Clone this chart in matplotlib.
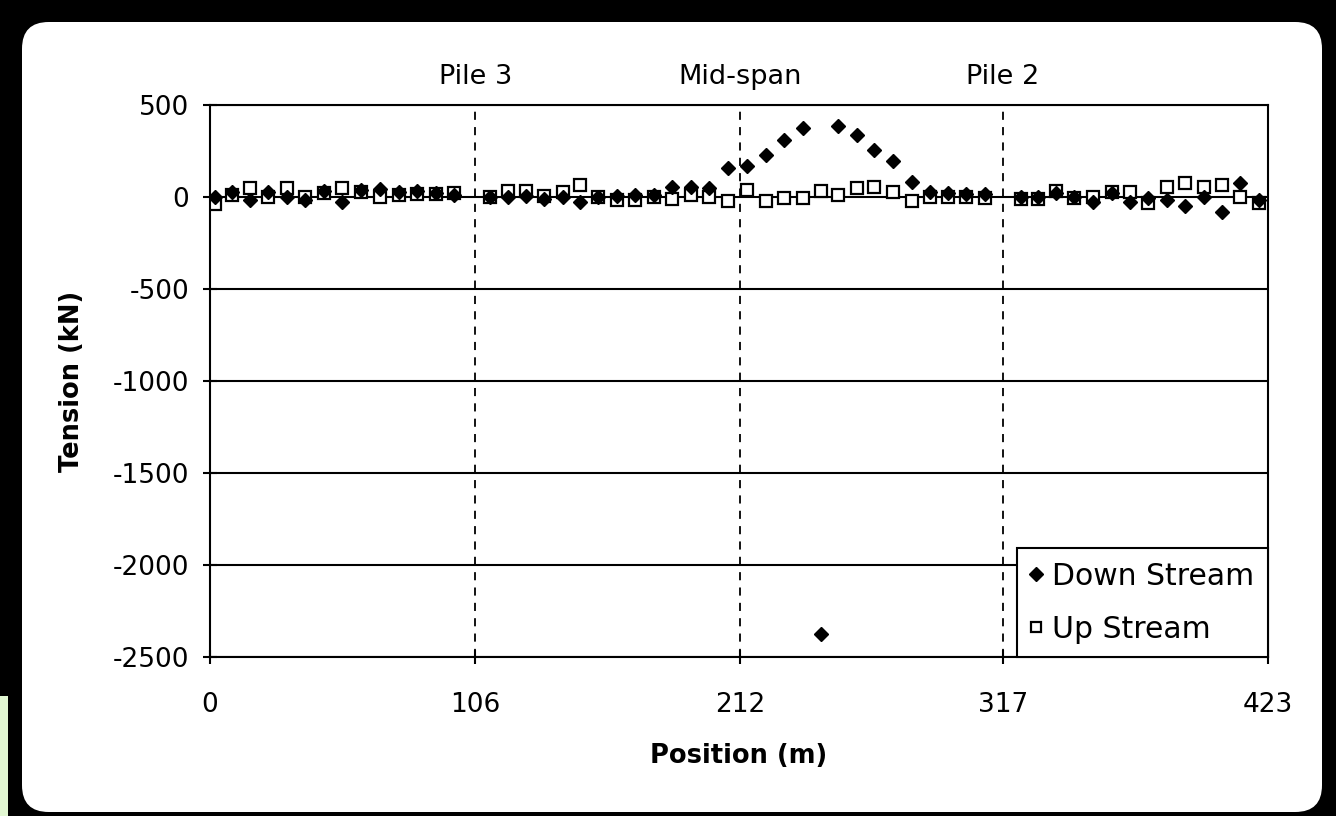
import matplotlib
matplotlib.use("Agg")
import matplotlib.pyplot as plt
from matplotlib.patches import FancyBboxPatch, Rectangle
import matplotlib.transforms as mtransforms

plt.rcParams["font.family"] = ["DejaVu Sans"]
plt.rcParams["axes.unicode_minus"] = False

# ---------------- data ----------------
down_x = [2.0, 8.8, 16.0, 23.2, 30.8, 38.0, 45.6, 52.8, 60.4, 68.0, 75.6, 82.8, 90.4, 97.6,
          112.0, 119.1, 126.3, 133.5, 141.1, 147.9, 155.1, 162.7, 169.9, 177.5, 184.7, 192.3,
          199.5, 207.1, 214.7, 222.3, 229.5, 237.1, 244.3, 251.1, 258.7, 265.5, 273.1, 280.7,
          287.9, 295.1, 302.2, 309.8,
          324.2, 331.0, 338.2, 345.4, 353.0, 360.6, 367.8, 375.0, 382.6, 389.8, 397.4, 404.6,
          411.8, 419.4]
down_y = [0, 25, -15, 25, 0, -15, 35, -25, 40, 45, 25, 35, 20, 10,
          0, 0, 5, -10, 0, -25, 0, 5, 10, 10, 55, 55,
          50, 160, 170, 230, 310, 375, -2375, 385, 335, 255, 195, 80,
          25, 20, 15, 15,
          0, 0, 20, 0, -25, 20, -25, -5, -15, -50, 0, -80,
          75, -15]

up_x = down_x
up_y = [-40, 10, 50, 0, 50, 0, 20, 50, 25, 0, 10, 15, 15, 20,
        0, 35, 35, 5, 25, 65, 0, -15, -15, 0, -10, 10,
        0, -20, 40, -20, -5, -5, 30, 10, 50, 55, 25, -20,
        0, 0, 0, -5,
        -10, -10, 35, -5, 0, 25, 25, -30, 55, 75, 55, 65,
        0, -30]

x_ticks = [0, 106, 212, 317, 423]
y_ticks = [500, 0, -500, -1000, -1500, -2000, -2500]
markers_at = [106, 212, 317]
marker_names = ["Pile 3", "Mid-span", "Pile 2"]

# ---------------- figure ----------------
W, H = 1336, 816
fig = plt.figure(figsize=(W / 100, H / 100), dpi=100, facecolor="black")

panel = FancyBboxPatch((22 / W, 4 / H), 1300 / W, 790 / H,
                       boxstyle="round,pad=0,rounding_size=0.02",
                       transform=fig.transFigure, facecolor="white",
                       edgecolor="none", mutation_aspect=W / H, zorder=-5)
fig.patches.append(panel)
# faint green strip at the far left bottom edge of the screenshot
fig.patches.append(Rectangle((0, 0), 8 / W, 120 / H, transform=fig.transFigure,
                             facecolor="#e2f7d2", edgecolor="none", zorder=-4))

ax = fig.add_axes([210 / W, 1 - 657 / H, 1058 / W, 552 / H])
ax.set_facecolor("white")

for yv in y_ticks:
    ax.axhline(yv, color="black", lw=1.5, zorder=1)
for xv in markers_at:
    ax.axvline(xv, color="black", lw=1.3, ls=(0, (4.5, 4)), zorder=1)

ax.plot(down_x, down_y, ls="none", marker="D", ms=7.5, color="black",
        label="Down Stream", zorder=3)
ax.plot(up_x, up_y, ls="none", marker="s", ms=8.5, mfc="white", mec="black",
        mew=1.6, label="Up Stream", zorder=2)

ax.set_xlim(0, 423)
ax.set_ylim(-2500, 500)
ax.set_xticks(x_ticks)
ax.set_yticks(y_ticks)
ax.tick_params(axis="both", direction="inout", length=10, width=1.5,
               labelsize=19, colors="black")
ax.tick_params(axis="x", pad=20)
ax.tick_params(axis="y", pad=10)
for s in ax.spines.values():
    s.set_linewidth(1.5)

ax.set_xlabel("Position (m)", fontsize=18.5, fontweight="bold", labelpad=18)
ax.set_ylabel("Tension (kN)", fontsize=18.5, fontweight="bold", labelpad=20)

trans = mtransforms.blended_transform_factory(ax.transData, ax.transAxes)
for xv, name in zip(markers_at, marker_names):
    ax.text(xv, 1.05, name, transform=trans, ha="center", va="center", fontsize=19.5)

leg = ax.legend(loc="lower right", fontsize=21.5, frameon=True, fancybox=False,
                framealpha=1, borderaxespad=0, handlelength=0.4,
                handletextpad=0.35, labelspacing=0.8, borderpad=0.45)
leg.get_frame().set_edgecolor("black")
leg.get_frame().set_linewidth(1.5)
leg.legend_handles[0].set_markersize(7)
leg.legend_handles[1].set_markersize(6.5)

fig.savefig("out.png", dpi=100, facecolor="black")
